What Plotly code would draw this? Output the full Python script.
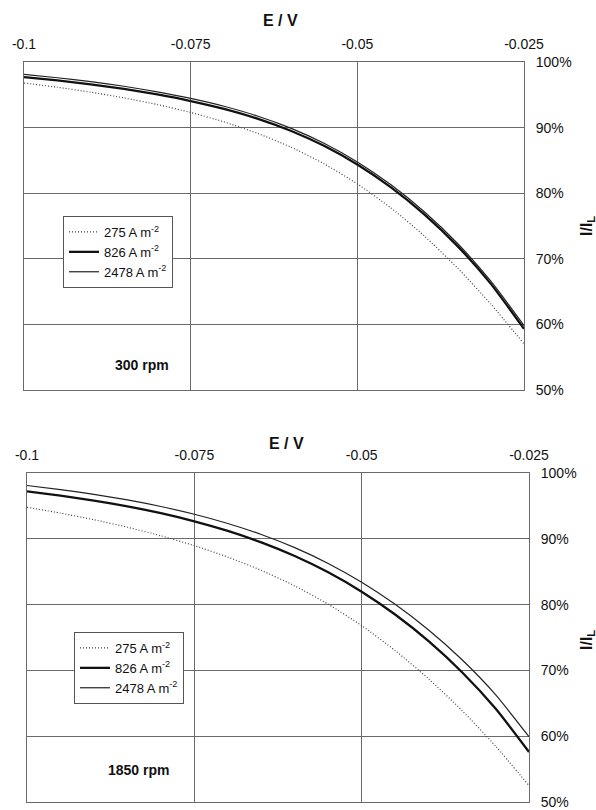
import plotly.graph_objects as go

# Electrode potential (V) and normalised current I/I_L (%)
potential = [-0.1, -0.095, -0.09, -0.085, -0.08, -0.075, -0.07, -0.065,
             -0.06, -0.055, -0.05, -0.045, -0.04, -0.035, -0.03, -0.025]

# 300 rpm
rpm300_275 = [96.8, 96.15, 95.4, 94.53, 93.51, 92.31, 90.87, 89.14, 87.04, 84.49, 81.42, 77.78, 73.53, 68.63, 63.13, 57.03]
rpm300_826 = [97.7, 97.2, 96.6, 95.9, 95.05, 94.05, 92.85, 91.37, 89.52, 87.22, 84.37, 80.92, 76.82, 71.97, 66.22, 59.32]
rpm300_2478 = [98.1, 97.6, 97.0, 96.3, 95.45, 94.45, 93.25, 91.77, 89.92, 87.62, 84.77, 81.32, 77.22, 72.37, 66.62, 59.82]

# 1850 rpm
rpm1850_275 = [94.8, 93.9, 92.9, 91.76, 90.46, 88.96, 87.22, 85.2, 82.84, 80.06, 76.8, 73.02, 68.72, 63.9, 58.5, 52.5]
rpm1850_826 = [97.2, 96.56, 95.81, 94.93, 93.89, 92.66, 91.2, 89.46, 87.39, 84.91, 81.96, 78.49, 74.44, 69.72, 64.2, 57.6]
rpm1850_2478 = [98.1, 97.48, 96.76, 95.91, 94.91, 93.73, 92.33, 90.66, 88.66, 86.26, 83.4, 80.04, 76.14, 71.62, 66.32, 59.92]

series_names = ["275 A m<sup>-2</sup>", "826 A m<sup>-2</sup>", "2478 A m<sup>-2</sup>"]
x_ticks = [-0.1, -0.075, -0.05, -0.025]
x_tick_text = ["-0.1", "-0.075", "-0.05", "-0.025"]
y_ticks = [50, 60, 70, 80, 90, 100]
y_tick_text = ["50%", "60%", "70%", "80%", "90%", "100%"]

FONT = "Liberation Sans, Arial, Helvetica, sans-serif"
GRID = "#6a6a6a"

styles = [
    dict(color="#444444", width=1.2, dash="1px,2px"),
    dict(color="#111111", width=2.3),
    dict(color="#222222", width=1.2),
]

fig = go.Figure()

panels = [
    ("x", "y", "legend", [rpm300_275, rpm300_826, rpm300_2478]),
    ("x2", "y2", "legend2", [rpm1850_275, rpm1850_826, rpm1850_2478]),
]
for xa, ya, lg, data in panels:
    for name, vals, st in zip(series_names, data, styles):
        fig.add_trace(go.Scatter(
            x=potential, y=vals, mode="lines", name=name,
            line=dict(shape="spline", smoothing=0.6, **st),
            xaxis=xa, yaxis=ya, legend=lg,
        ))


def x_axis(domain, anchor):
    return dict(
        domain=domain, anchor=anchor, range=[-0.1, -0.025], side="top",
        tickvals=x_ticks, ticktext=x_tick_text, ticks="",
        ticklabelstandoff=6, ticklabeloverflow="allow",
        tickfont=dict(size=14, color="#111111", family=FONT),
        showgrid=True, gridcolor=GRID, gridwidth=1,
        showline=True, mirror=True, linecolor=GRID, linewidth=1,
        zeroline=False, automargin=False, fixedrange=True,
    )


def y_axis(domain, anchor):
    return dict(
        domain=domain, anchor=anchor, range=[50, 100], side="right",
        tickvals=y_ticks, ticktext=y_tick_text, ticks="",
        ticklabelstandoff=8, ticklabeloverflow="allow",
        tickfont=dict(size=14, color="#111111", family=FONT),
        showgrid=True, gridcolor=GRID, gridwidth=1,
        showline=True, mirror=True, linecolor=GRID, linewidth=1,
        zeroline=False, automargin=False, fixedrange=True,
    )


W, H = 596, 810


def legend_box(x_px, y_px):
    return dict(
        x=x_px / W, y=1 - y_px / H, xanchor="left", yanchor="top",
        xref="paper", yref="paper",
        bgcolor="white", bordercolor="#555555", borderwidth=1,
        font=dict(size=13, color="#111111", family=FONT),
        itemwidth=30, tracegroupgap=0,
    )


title_font = dict(size=16, color="#111111", family=FONT)
label_font = dict(size=14, color="#111111", family=FONT)
annotations = [
    dict(text="<b>E / V</b>", x=280 / W, y=1 - 20 / H),
    dict(text="<b>E / V</b>", x=286 / W, y=1 - 443 / H),
    dict(text="<b>I/I<sub>L</sub></b>", x=587 / W, y=1 - 226 / H, textangle=-90),
    dict(text="<b>I/I<sub>L</sub></b>", x=587 / W, y=1 - 640 / H, textangle=-90),
    dict(text="<b>300 rpm</b>", x=113 / W, y=1 - 365 / H, xanchor="left", font=label_font),
    dict(text="<b>1850 rpm</b>", x=106 / W, y=1 - 770 / H, xanchor="left", font=label_font),
]
for a in annotations:
    a.setdefault("xref", "paper")
    a.setdefault("yref", "paper")
    a.setdefault("showarrow", False)
    a.setdefault("font", title_font)
    a.setdefault("xanchor", "center")
    a.setdefault("yanchor", "middle")

fig.update_layout(
    width=W, height=H,
    margin=dict(l=0, r=0, t=0, b=0),
    paper_bgcolor="white", plot_bgcolor="white",
    font=dict(family=FONT, color="#111111"),
    showlegend=True,
    xaxis=x_axis([24 / W, 524 / W], "y"),
    yaxis=y_axis([1 - 390 / H, 1 - 62 / H], "x"),
    xaxis2=x_axis([27 / W, 529 / W], "y2"),
    yaxis2=y_axis([1 - 802 / H, 1 - 473 / H], "x2"),
    legend=legend_box(63, 216),
    legend2=legend_box(74, 632),
    annotations=annotations,
)

fig.write_html("out.html")
